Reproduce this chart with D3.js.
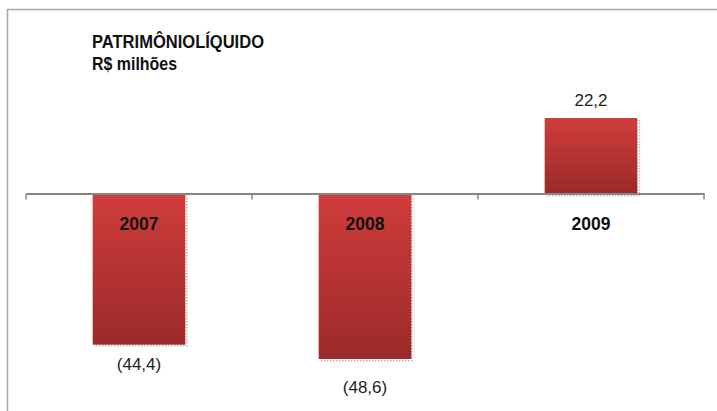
<!DOCTYPE html>
<html><head><meta charset="utf-8">
<script src="https://cdn.jsdelivr.net/npm/d3@7"></script>
<style>body{margin:0;background:#fff}svg{display:block}</style>
</head><body>
<script>
const categories = ["2007", "2008", "2009"];
const values = [-44.4, -48.6, 22.2];
const valueLabels = ["(44,4)", "(48,6)", "22,2"];
const titleLines = ["PATRIMÔNIOLÍQUIDO", "R$ milhões"];

const W = 717, H = 411;
const svg = d3.select("body").append("svg").attr("width", W).attr("height", H);
const font = "'Liberation Sans', Arial, sans-serif";

// chart border (left and top)
svg.append("path").attr("d", "M7.5,411 V9.5 H717").attr("fill", "none").attr("stroke", "#a6a6a6").attr("stroke-width", 1.5);

const x = d3.scaleBand().domain(categories).range([26, 704]).paddingInner(0.59).paddingOuter(0.295);
const y = d3.scaleLinear().domain([-48.6, 22.2]).range([359, 118]);

const defs = svg.append("defs");
const grad = defs.append("linearGradient").attr("id", "g").attr("x1", 0).attr("y1", 0).attr("x2", 0).attr("y2", 1);
grad.append("stop").attr("offset", "0%").attr("stop-color", "#cf3d3b");
grad.append("stop").attr("offset", "100%").attr("stop-color", "#9b2a2a");
const pat = defs.append("pattern").attr("id", "sh").attr("width", 3).attr("height", 3).attr("patternUnits", "userSpaceOnUse");
pat.append("rect").attr("width", 3).attr("height", 3).attr("fill", "#fff");
pat.append("rect").attr("width", 1.5).attr("height", 1.5).attr("fill", "#b5b5b5");

const data = categories.map((c, i) => ({c, v: values[i], l: valueLabels[i]}));

// shadows
svg.selectAll(".sh").data(data).join("rect")
  .attr("x", d => x(d.c) + 2).attr("y", d => Math.min(y(d.v), y(0)) + 2)
  .attr("width", x.bandwidth() + 1).attr("height", d => Math.abs(y(d.v) - y(0)) + 1)
  .attr("fill", "url(#sh)");

svg.selectAll(".bar").data(data).join("rect")
  .attr("x", d => x(d.c)).attr("y", d => Math.min(y(d.v), y(0)))
  .attr("width", x.bandwidth()).attr("height", d => Math.abs(y(d.v) - y(0)))
  .attr("fill", "url(#g)");

// axis
const ax = svg.append("g").attr("transform", `translate(0,${y(0)})`)
  .call(d3.axisBottom(x).tickSize(0).tickFormat(""));
ax.select(".domain").attr("stroke", "#868686").attr("stroke-width", 2);
const tickPos = [26].concat(categories.map(c => x(c) + x.bandwidth() / 2 + x.step() / 2));
ax.selectAll(".tk").data(tickPos).join("line")
  .attr("x1", d => d).attr("x2", d => d).attr("y1", 0).attr("y2", 6)
  .attr("stroke", "#868686").attr("stroke-width", 1.5);

// category labels
svg.selectAll(".cat").data(data).join("text")
  .attr("x", d => x(d.c) + x.bandwidth() / 2).attr("y", 230)
  .attr("text-anchor", "middle").attr("font-family", font).attr("font-weight", "bold")
  .attr("font-size", 18).attr("fill", "#111")
  .attr("textLength", 39).attr("lengthAdjust", "spacingAndGlyphs").text(d => d.c);

// value labels (negative labels sit at Excel's staggered offsets)
const negDy = [25, 34];
svg.selectAll(".val").data(data).join("text")
  .attr("x", d => x(d.c) + x.bandwidth() / 2)
  .attr("y", (d, i) => d.v >= 0 ? y(d.v) - 12 : y(d.v) + negDy[i])
  .attr("text-anchor", "middle").attr("font-family", font)
  .attr("font-size", 17).attr("fill", "#222").text(d => d.l);

// title
const titleLen = [172, 85];
svg.selectAll(".title").data(titleLines).join("text")
  .attr("x", 92).attr("y", (d, i) => 48 + i * 22)
  .attr("font-family", font).attr("font-weight", "bold").attr("font-size", 18)
  .attr("fill", "#111").attr("textLength", (d, i) => titleLen[i])
  .attr("lengthAdjust", "spacingAndGlyphs").text(d => d);
</script>
</body></html>
